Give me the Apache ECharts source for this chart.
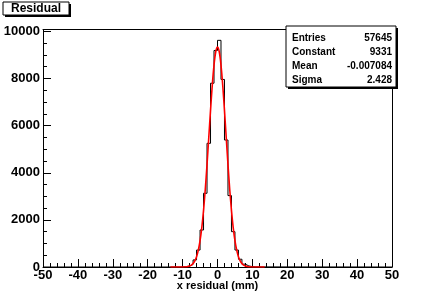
<!DOCTYPE html>
<html>
<head>
<meta charset="utf-8">
<script src="https://cdn.jsdelivr.net/npm/echarts@6/dist/echarts.min.js"></script>
<style>html,body{margin:0;padding:0;background:#fff}#c{width:436px;height:297px}</style>
</head>
<body>
<div id="c"></div>
<script>
// Histogram: lower bin edges (width 1 mm) and counts
const binLow = [-11,-10,-9,-8,-7,-6,-5,-4,-3,-2,-1,0,1,2,3,4,5,6,7,8,9,10];
const binCount = [5,15,40,110,300,720,1570,3130,5250,7800,9190,9620,7960,5390,3030,1500,720,330,120,45,15,5];
const histMin = -50, histMax = 50, binWidth = 1;

const fitX = [-13.5,-12,-11,-10,-9,-8.5,-8,-7.5,-7,-6.5,-6,-5.5,-5,-4.5,-4,-3.5,-3,-2.5,-2,-1.5,-1,-0.5,0,
              0.5,1,1.5,2,2.5,3,3.5,4,4.5,5,5.5,6,6.5,7,7.5,8,8.5,9,10,11,12,13.5];
const fitY = [0,0,0.3,2,10,20,41,79,146,259,440,718,1120,1675,2403,3301,4349,5496,6647,7711,8573,9135,9331,
              9135,8573,7711,6647,5496,4349,3301,2403,1675,1120,718,440,259,146,79,41,20,10,2,0.3,0,0];

// Axis ticks
const xTickStep = 10, yTickStep = 2000, yMax = 10080;

// Stats box
const statLabels = ['Entries','Constant','Mean','Sigma'];
const statValues = ['57645','9331','-0.007084','2.428'];
const title = 'Residual';
const xTitle = 'x residual (mm)';

const histData = [[histMin, 0]];
binLow.forEach((x, i) => histData.push([x, binCount[i]]));
histData.push([binLow[binLow.length - 1] + binWidth, 0]);
histData.push([histMax, 0]);

const fitData = fitX.map((x, i) => [x, fitY[i]]);

const FONT = 'Liberation Sans';
const chart = echarts.init(document.getElementById('c'), null, {renderer: 'canvas'});

const statGraphics = [];
const bx = 286, by = 26, bw = 110, bh = 61;
statGraphics.push({type:'rect', shape:{x:bx+2, y:by+2, width:bw, height:bh}, style:{fill:'#000'}, z:100});
statGraphics.push({type:'rect', shape:{x:bx, y:by, width:bw, height:bh}, style:{fill:'#fff', stroke:'#000', lineWidth:1}, z:101});
statLabels.forEach((l, i) => {
  statGraphics.push({type:'text', x: bx + 6, y: by + 12 + i*14, style:{text:l, font:'bold 10px ' + FONT, fill:'#000', textVerticalAlign:'middle', textAlign:'left'}, z:102});
  statGraphics.push({type:'text', x: bx + bw - 4, y: by + 12 + i*14, style:{text:statValues[i], font:'bold 10px ' + FONT, fill:'#000', textVerticalAlign:'middle', textAlign:'right'}, z:102});
});

const plain = v => String(v);

const option = {
  backgroundColor: '#fff',
  animation: false,
  grid: {left: 43, right: 44, top: 29.5, bottom: 30, containLabel: false, outerBoundsMode: 'none'},
  xAxis: [{
    type: 'value', min: histMin, max: histMax, interval: xTickStep,
    axisLine: {show: true, onZero: false, lineStyle: {color: '#000', width: 1}},
    axisTick: {show: true, inside: true, length: 8, lineStyle: {color: '#000'}},
    minorTick: {show: true, splitNumber: 5, length: 4, lineStyle: {color: '#000'}},
    splitLine: {show: false},
    axisLabel: {color: '#000', fontFamily: FONT, fontWeight: 'bold', fontSize: 13, margin: 2, formatter: plain},
    name: xTitle, nameLocation: 'middle', nameGap: 13, nameMoveOverlap: false,
    nameTextStyle: {color: '#000', fontFamily: FONT, fontWeight: 'bold', fontSize: 11}
  }, {
    type: 'value', position: 'top', min: histMin, max: histMax,
    axisLine: {show: true, onZero: false, lineStyle: {color: '#000', width: 1}},
    axisTick: {show: false}, axisLabel: {show: false}, splitLine: {show: false}
  }],
  yAxis: [{
    type: 'value', min: 0, max: yMax, interval: yTickStep, position: 'left',
    axisLine: {show: true, onZero: false, lineStyle: {color: '#000', width: 1}},
    axisTick: {show: true, inside: true, length: 8, lineStyle: {color: '#000'}},
    splitLine: {show: false},
    axisLabel: {color: '#000', fontFamily: FONT, fontWeight: 'bold', fontSize: 13, margin: 3, showMaxLabel: false, formatter: plain}
  }, {
    type: 'value', position: 'left', min: 0, max: yMax, interval: yTickStep / 4,
    axisLine: {show: false, onZero: false},
    axisTick: {show: true, inside: true, length: 4, lineStyle: {color: '#000'}},
    axisLabel: {show: false}, splitLine: {show: false}
  }, {
    type: 'value', position: 'right', min: 0, max: yMax,
    axisLine: {show: true, onZero: false, lineStyle: {color: '#000', width: 1}},
    axisTick: {show: false}, axisLabel: {show: false}, splitLine: {show: false}
  }],
  series: [{
    type: 'line', name: 'hist', data: histData, step: 'end', showSymbol: false, symbol: 'none',
    lineStyle: {color: '#000', width: 1}, z: 3, silent: true
  }, {
    type: 'line', name: 'fit', data: fitData, smooth: 0.3, showSymbol: false, symbol: 'none',
    lineStyle: {color: '#ff0000', width: 1.6}, z: 4, silent: true
  }],
  graphic: [
    {type:'rect', shape:{x:5, y:4, width:66, height:13}, style:{fill:'#000'}, z:100},
    {type:'rect', shape:{x:3, y:2, width:66, height:13}, style:{fill:'#fff', stroke:'#000', lineWidth:1}, z:101},
    {type:'text', x:36, y:8.8, style:{text:title, font:'bold 12px ' + FONT, fill:'#000', textAlign:'center', textVerticalAlign:'middle'}, z:102}
  ].concat(statGraphics)
};
chart.setOption(option);
</script>
</body>
</html>
